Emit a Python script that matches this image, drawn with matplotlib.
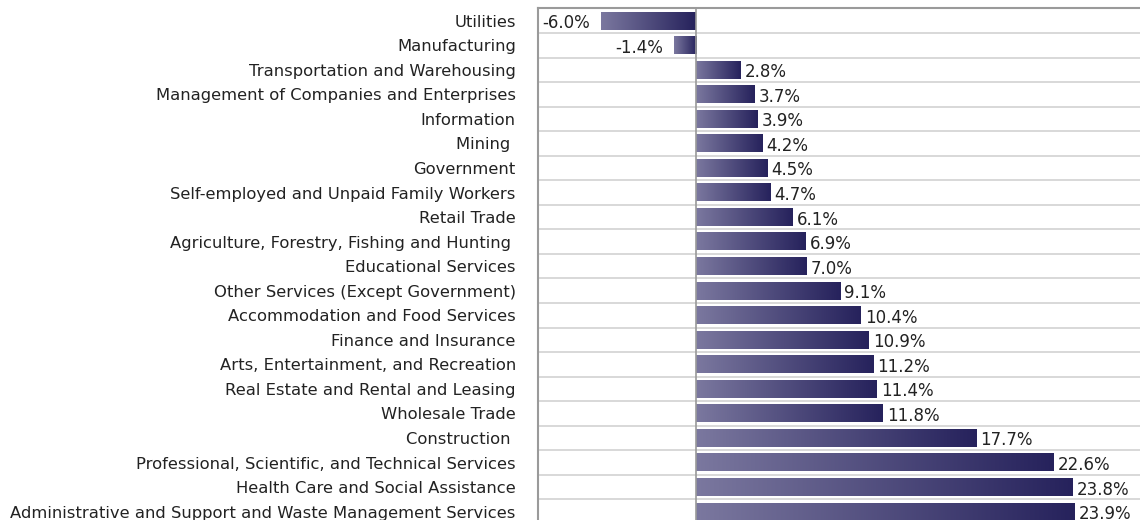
import numpy as np
import matplotlib.pyplot as plt
from matplotlib.colors import LinearSegmentedColormap

plt.rcParams['font.family'] = ['DejaVu Sans']

industries = [
    "Utilities",
    "Manufacturing",
    "Transportation and Warehousing",
    "Management of Companies and Enterprises",
    "Information",
    "Mining ",
    "Government",
    "Self-employed and Unpaid Family Workers",
    "Retail Trade",
    "Agriculture, Forestry, Fishing and Hunting ",
    "Educational Services",
    "Other Services (Except Government)",
    "Accommodation and Food Services",
    "Finance and Insurance",
    "Arts, Entertainment, and Recreation",
    "Real Estate and Rental and Leasing",
    "Wholesale Trade",
    "Construction ",
    "Professional, Scientific, and Technical Services",
    "Health Care and Social Assistance",
    "Administrative and Support and Waste Management Services",
]
growth = [-6.0, -1.4, 2.8, 3.7, 3.9, 4.2, 4.5, 4.7, 6.1, 6.9, 7.0, 9.1,
          10.4, 10.9, 11.2, 11.4, 11.8, 17.7, 22.6, 23.8, 23.9]

W, H = 1140, 520
fig = plt.figure(figsize=(W / 100, H / 100), dpi=100)
n_rows = len(industries)
row_px = 24.55
top_px = 8.4
ax = fig.add_axes([538 / W, 1 - (top_px + n_rows * row_px) / H,
                   (W - 538) / W, n_rows * row_px / H])

cmap = LinearSegmentedColormap.from_list('bar', ['#7b789f', '#26225c'])
grad = np.linspace(0, 1, 256).reshape(1, -1)
bar_h = 0.72

for i, v in enumerate(growth):
    x0, x1 = min(0, v), max(0, v)
    ax.imshow(grad, cmap=cmap, aspect='auto', interpolation='bicubic',
              extent=[x0, x1, i + bar_h / 2, i - bar_h / 2], zorder=2)
    if v >= 0:
        ax.text(v + 0.25, i + 0.1, f"{v:.1f}%", ha='left', va='center',
                fontsize=12, color='#222222')
    else:
        ax.text(v - 0.7, i + 0.1, f"{v:.1f}%", ha='right', va='center',
                fontsize=12, color='#222222')

for i in range(n_rows - 1):
    ax.axhline(i + 0.5, color='#d2d2d2', lw=1.2, zorder=1)
ax.axvline(0, color='#9a9a9a', lw=1.2, zorder=3)

ax.set_xlim(-10, 28.03)
ax.set_ylim(n_rows - 0.5, -0.5)
ax.set_yticks(range(n_rows))
ax.set_yticklabels(industries, fontsize=11.8, color='#222222')
ax.tick_params(axis='y', length=0, pad=16)
ax.set_xticks([])
for s in ['right', 'bottom']:
    ax.spines[s].set_visible(False)
for s in ['top', 'left']:
    ax.spines[s].set_color('#9a9a9a')
    ax.spines[s].set_linewidth(1.5)

fig.savefig('out.png', dpi=100)
